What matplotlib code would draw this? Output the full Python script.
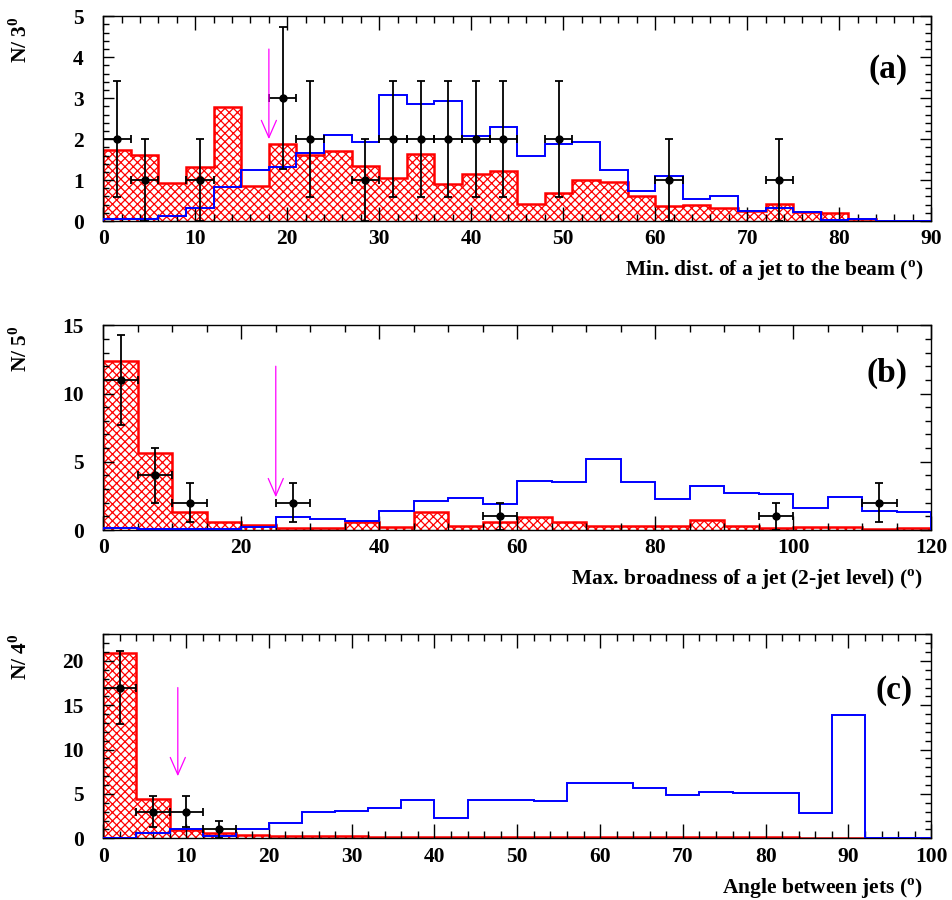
import numpy as np
import matplotlib
matplotlib.use("Agg")
import matplotlib.pyplot as plt
from matplotlib.ticker import MultipleLocator

plt.rcParams.update({
    "font.family": "Liberation Serif",
    "font.weight": "bold",
    "font.size": 15.5,
    "axes.labelweight": "bold",
    "mathtext.fontset": "custom",
    "mathtext.rm": "Liberation Serif",
    "mathtext.bf": "Liberation Serif:bold",
    "hatch.linewidth": 0.9,
    "axes.linewidth": 1.0,
})

# ── (a) min. distance of a jet to the beam, 3 deg bins ──────────────────
A_EDGES = np.arange(0, 91, 3)
A_RED = [1.74, 1.61, 0.94, 1.31, 2.78, 0.85, 1.88, 1.61, 1.71, 1.35,
         1.06, 1.63, 0.90, 1.16, 1.22, 0.42, 0.69, 0.99, 0.95, 0.60,
         0.37, 0.38, 0.31, 0.24, 0.41, 0.23, 0.20, 0.05, 0.0, 0.0]
A_BLUE = [0.05, 0.05, 0.12, 0.33, 0.82, 1.24, 1.31, 1.67, 2.09, 1.94,
          3.07, 2.85, 2.93, 2.08, 2.30, 1.60, 1.88, 1.94, 1.25, 0.74,
          1.11, 0.54, 0.61, 0.25, 0.33, 0.21, 0.02, 0.05, 0.0, 0.0]
A_X = [1.5, 4.5, 10.5, 19.5, 22.5, 28.5, 31.5, 34.5, 37.5, 40.5, 43.5, 49.5, 61.5, 73.5]
A_N = [2, 1, 1, 3, 2, 1, 2, 2, 2, 2, 2, 2, 1, 1]
A_ERR = [1.41, 1.0, 1.0, 1.73, 1.41, 1.0, 1.41, 1.41, 1.41, 1.41, 1.41, 1.41, 1.0, 1.0]
A_CUT = (18, 4.2, 2.0)

# ── (b) max. broadness of a jet, 5 deg bins ─────────────────────────────
B_EDGES = np.arange(0, 121, 5)
B_RED = [12.39, 5.66, 1.32, 0.61, 0.37, 0.17, 0.12, 0.56, 0.22, 1.34, 0.29, 0.56,
         0.98, 0.56, 0.32, 0.32, 0.27, 0.76, 0.32, 0.17, 0.24, 0.20, 0.10, 0.15]
B_BLUE = [0.12, 0.05, 0.05, 0.05, 0.20, 0.98, 0.78, 0.66, 1.41, 2.12, 2.32, 1.93,
          3.61, 3.51, 5.20, 3.51, 2.29, 3.22, 2.71, 2.61, 1.61, 2.39, 1.41, 1.32]
B_X = [2.5, 7.5, 12.5, 27.5, 57.5, 97.5, 112.5]
B_N = [11, 4, 2, 2, 1, 1, 2]
B_ERR = [3.32, 2.0, 1.41, 1.41, 1.0, 1.0, 1.41]
B_CUT = (25, 12.0, 2.4)

# ── (c) angle between jets, 4 deg bins ──────────────────────────────────
C_EDGES = np.arange(0, 101, 4)
C_RED = [20.86, 4.46, 0.94, 0.64, 0.37, 0.26, 0.22, 0.20, 0.18, 0.17, 0.16, 0.15, 0.15,
         0.14, 0.14, 0.13, 0.13, 0.12, 0.12, 0.11, 0.10, 0.0, 0.0, 0.0, 0.0]
C_BLUE = [0.02, 0.64, 1.01, 0.26, 1.01, 1.76, 2.96, 3.11, 3.37, 4.27, 2.25, 4.27, 4.34,
          4.16, 6.18, 6.18, 5.62, 4.91, 5.24, 5.09, 5.09, 2.88, 13.93, 0.0, 0.0]
C_X = [2, 6, 10, 14]
C_N = [17, 3, 3, 1]
C_ERR = [4.12, 1.73, 1.73, 1.0]
C_CUT = (9, 17.0, 7.0)

PANELS = [
    # edges, red, blue, x, n, err, cut, xlim, ylim, ticks, labels, tag, tag pos, axes bottom
    (A_EDGES, A_RED, A_BLUE, A_X, A_N, A_ERR, A_CUT, 90, 5.0, 10, 2, 1, 0.2,
     r"Min. dist. of a jet to the beam ($^{\mathrm{o}}$)", r"N/ 3$^{\mathbf{0}}$",
     "(a)", (0.972, 0.739), 0.7544),
    (B_EDGES, B_RED, B_BLUE, B_X, B_N, B_ERR, B_CUT, 120, 15.0, 20, 5, 5, 1,
     r"Max. broadness of a jet (2-jet level) ($^{\mathrm{o}}$)", r"N/ 5$^{\mathbf{0}}$",
     "(b)", (0.971, 0.766), 0.4111),
    (C_EDGES, C_RED, C_BLUE, C_X, C_N, C_ERR, C_CUT, 100, 23.1, 10, 2, 5, 1,
     r"Angle between jets ($^{\mathrm{o}}$)", r"N/ 4$^{\mathbf{0}}$",
     "(c)", (0.978, 0.721), 0.0686),
]

fig = plt.figure(figsize=(9.52, 9.0), dpi=100)

for (edges, red, blue, xs, ns, errs, cut, xmax, ymax, xmaj, xmin, ymaj, ymin,
     xlabel, ylabel, tag, tagpos, bottom) in PANELS:
    ax = fig.add_axes([0.1085, bottom, 0.8697, 0.2275])
    half = (edges[1] - edges[0]) / 2.0

    ax.stairs(red, edges, fill=True, facecolor="white", edgecolor="#FF0000",
              hatch="xxxx", lw=1.8, zorder=1)
    ax.stairs(blue, edges, color="#0000FF", lw=1.4, zorder=3)
    ax.errorbar(xs, ns, xerr=half, yerr=errs, fmt="o", color="black", ms=5,
                elinewidth=1.3, capsize=3, capthick=1.3, zorder=4)

    cx, y0, y1 = cut
    ax.annotate("", xy=(cx, y1), xytext=(cx, y0), zorder=5,
                arrowprops=dict(arrowstyle="->, head_length=0.8, head_width=0.35",
                                color="#FF00FF", lw=0.9, shrinkA=0, shrinkB=0))

    ax.set_xlim(0, xmax)
    ax.set_ylim(0, ymax)
    ax.xaxis.set_major_locator(MultipleLocator(xmaj))
    ax.xaxis.set_minor_locator(MultipleLocator(xmin))
    ax.yaxis.set_major_locator(MultipleLocator(ymaj))
    ax.yaxis.set_minor_locator(MultipleLocator(ymin))
    ax.tick_params(which="both", direction="in", top=True, right=True, width=1.0)
    ax.tick_params(axis="x", which="major", length=10, pad=6)
    ax.tick_params(axis="x", which="minor", length=5)
    ax.tick_params(axis="y", which="major", length=8, pad=14)
    ax.tick_params(axis="y", which="minor", length=4)

    ax.set_xlabel(xlabel, loc="right", labelpad=7)
    ax.xaxis.get_label().set_position((0.99, 0))
    ax.set_ylabel(ylabel, loc="top")
    ax.yaxis.set_label_coords(-0.086, 1.0)

    ax.text(tagpos[0], tagpos[1], tag, transform=ax.transAxes, ha="right",
            va="center", fontsize=24, fontweight="bold")

fig.savefig("out.png", dpi=100)
